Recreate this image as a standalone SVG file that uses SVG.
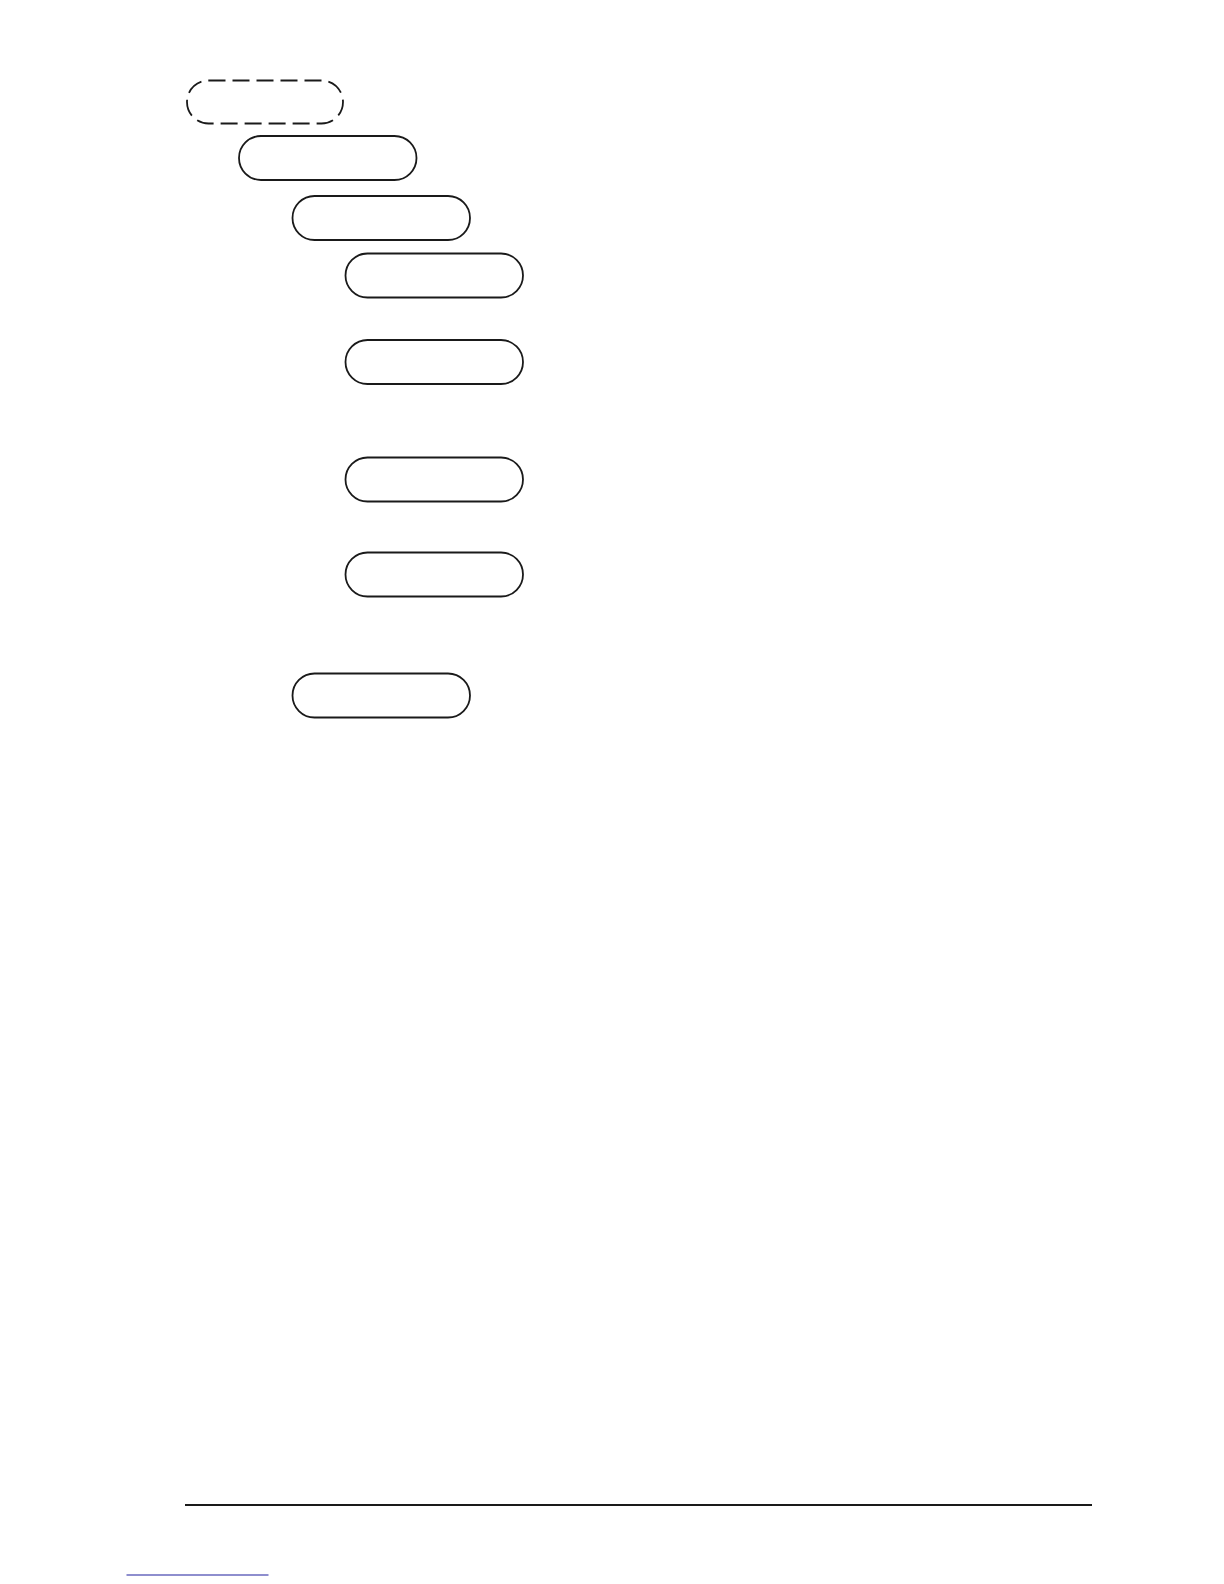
<svg xmlns="http://www.w3.org/2000/svg" width="1224" height="1584" viewBox="0 0 1224 1584">
<style>
.n{fill:#fff;stroke:#1a1a1a;stroke-width:1.8}
.d{stroke-dasharray:17 7}
</style>
<rect width="1224" height="1584" fill="#fff"/>
<g id="node0"><rect class="n d" x="187" y="80.5" width="156" height="43" rx="21.5"/></g>
<g id="node1"><rect class="n" x="239" y="136" width="177.5" height="44" rx="22"/></g>
<g id="node2"><rect class="n" x="292.5" y="196" width="177.5" height="44" rx="22"/></g>
<g id="node3"><rect class="n" x="345.5" y="253.5" width="177.5" height="44" rx="22"/></g>
<g id="node4"><rect class="n" x="345.5" y="340" width="177.5" height="44" rx="22"/></g>
<g id="node5"><rect class="n" x="345.5" y="457.5" width="177.5" height="44" rx="22"/></g>
<g id="node6"><rect class="n" x="345.5" y="552.5" width="177.5" height="44" rx="22"/></g>
<g id="node7"><rect class="n" x="292.5" y="673.5" width="177.5" height="44" rx="22"/></g>
<g id="connectors"></g>
<line x1="185" y1="1505" x2="1092" y2="1505" stroke="#1a1a1a" stroke-width="2.2"/>
<line x1="126.5" y1="1575" x2="268.5" y2="1575" stroke="#1f1f9e" stroke-width="1.2"/>
</svg>
